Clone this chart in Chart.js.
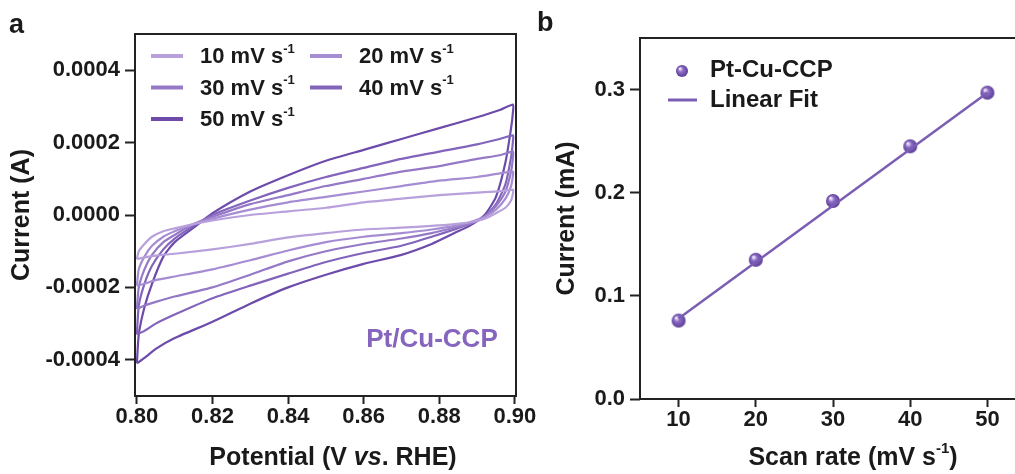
<!DOCTYPE html>
<html>
<head>
<meta charset="utf-8">
<script src="https://cdn.jsdelivr.net/npm/chart.js@4.4.1/dist/chart.umd.min.js"></script>
<style>
  html, body { margin: 0; padding: 0; background: #fff; overflow: hidden; }
  body { width: 1015px; height: 474px; position: relative; }
  canvas { position: absolute; top: 0; }
  #cvChart { left: 0; }
  #rateChart { left: 530px; }
</style>
</head>
<body>
<canvas id="cvChart" width="560" height="474"></canvas>
<canvas id="rateChart" width="510" height="474"></canvas>
<script>
// ---- panel a : CV loops (potential in V, current in A) ----
const scanRates = [10, 20, 30, 40, 50];
// forward sweep 0.80 -> 0.90 then reverse sweep back to 0.80
const cvPotential = [
  0.800, 0.8005, 0.802, 0.804, 0.807, 0.810, 0.815, 0.820, 0.830, 0.840, 0.850, 0.860, 0.870, 0.880, 0.890, 0.896, 0.8995,
  0.8995, 0.899, 0.8975, 0.895, 0.892, 0.888, 0.884, 0.878, 0.870, 0.860, 0.850, 0.840, 0.830, 0.820, 0.810, 0.805, 0.802, 0.800
];
const cv10 = [
  -1.22e-4, -1.0e-4, -0.8e-4, -0.6e-4, -0.45e-4, -0.37e-4, -0.25e-4, -0.15e-4, 0.0, 0.1e-4, 0.2e-4, 0.35e-4, 0.45e-4, 0.55e-4, 0.62e-4, 0.66e-4, 0.7e-4,
  0.6e-4, 0.4e-4, 0.2e-4, 0.05e-4, -0.1e-4, -0.2e-4, -0.25e-4, -0.3e-4, -0.35e-4, -0.4e-4, -0.5e-4, -0.62e-4, -0.8e-4, -0.95e-4, -1.07e-4, -1.12e-4, -1.17e-4, -1.22e-4
];
const cv20 = [
  -1.95e-4, -1.5e-4, -1.15e-4, -0.85e-4, -0.6e-4, -0.45e-4, -0.25e-4, -0.1e-4, 0.15e-4, 0.35e-4, 0.5e-4, 0.65e-4, 0.8e-4, 0.95e-4, 1.05e-4, 1.15e-4, 1.2e-4,
  1.1e-4, 0.8e-4, 0.45e-4, 0.15e-4, -0.05e-4, -0.2e-4, -0.3e-4, -0.4e-4, -0.5e-4, -0.6e-4, -0.75e-4, -0.98e-4, -1.25e-4, -1.5e-4, -1.7e-4, -1.8e-4, -1.9e-4, -1.95e-4
];
const cv30 = [
  -2.6e-4, -2.0e-4, -1.5e-4, -1.1e-4, -0.75e-4, -0.55e-4, -0.25e-4, -0.05e-4, 0.3e-4, 0.55e-4, 0.8e-4, 1.0e-4, 1.2e-4, 1.35e-4, 1.55e-4, 1.65e-4, 1.75e-4,
  1.6e-4, 1.2e-4, 0.65e-4, 0.25e-4, -0.05e-4, -0.25e-4, -0.35e-4, -0.5e-4, -0.65e-4, -0.8e-4, -1.0e-4, -1.28e-4, -1.65e-4, -2.0e-4, -2.25e-4, -2.4e-4, -2.5e-4, -2.6e-4
];
const cv40 = [
  -3.3e-4, -2.5e-4, -1.9e-4, -1.4e-4, -0.95e-4, -0.65e-4, -0.3e-4, 0.0, 0.4e-4, 0.75e-4, 1.05e-4, 1.3e-4, 1.55e-4, 1.75e-4, 1.95e-4, 2.1e-4, 2.2e-4,
  2.05e-4, 1.6e-4, 0.85e-4, 0.3e-4, -0.05e-4, -0.25e-4, -0.4e-4, -0.6e-4, -0.85e-4, -1.05e-4, -1.3e-4, -1.62e-4, -1.95e-4, -2.3e-4, -2.75e-4, -3.0e-4, -3.2e-4, -3.3e-4
];
const cv50 = [
  -4.1e-4, -3.3e-4, -2.55e-4, -1.9e-4, -1.15e-4, -0.75e-4, -0.35e-4, 0.05e-4, 0.65e-4, 1.1e-4, 1.5e-4, 1.8e-4, 2.1e-4, 2.4e-4, 2.7e-4, 2.9e-4, 3.05e-4,
  2.85e-4, 2.4e-4, 1.45e-4, 0.5e-4, 0.0, -0.3e-4, -0.5e-4, -0.8e-4, -1.1e-4, -1.35e-4, -1.65e-4, -2.0e-4, -2.45e-4, -2.95e-4, -3.4e-4, -3.7e-4, -3.95e-4, -4.1e-4
];
const cvXTicks = [0.80, 0.82, 0.84, 0.86, 0.88, 0.90];
const cvYTicks = [-0.0004, -0.0002, 0, 0.0002, 0.0004];

// ---- panel b : scan rate vs current ----
const rateValues = [10, 20, 30, 40, 50];
const rateCurrents = [0.076, 0.135, 0.192, 0.245, 0.297];
const fitRates = [10, 50];
const fitCurrents = [0.078, 0.297];
const rateXTicks = [10, 20, 30, 40, 50];
const rateYTicks = [0.0, 0.1, 0.2, 0.3];

const FONT = '"Liberation Sans", Arial, Helvetica, sans-serif';
const INK = '#1a1a1a';
const cvColors = ['#b8a0dc', '#a68cd2', '#9579c7', '#8264bb', '#6d4bab'];
const PURPLE = '#7b5db4';

Chart.defaults.font.family = FONT;
Chart.defaults.color = INK;

// text made of pieces, each with its own font and vertical shift
function drawRich(ctx, parts, x, y, align) {
  let w = 0;
  parts.forEach(p => { ctx.font = p.font; w += ctx.measureText(p.t).width; });
  let cx = align === 'center' ? x - w / 2 : x;
  ctx.textAlign = 'left';
  ctx.textBaseline = 'middle';
  parts.forEach(p => {
    ctx.font = p.font;
    ctx.fillText(p.t, cx, y + (p.dy || 0));
    cx += ctx.measureText(p.t).width;
  });
}
const bold = s => `bold ${s}px ${FONT}`;
const boldItalic = s => `italic bold ${s}px ${FONT}`;

function makeSphere(r) {
  const c = document.createElement('canvas');
  c.width = c.height = r * 2 + 2;
  const g = c.getContext('2d');
  const m = r + 1;
  const grad = g.createRadialGradient(m - r * 0.35, m - r * 0.4, r * 0.1, m, m, r);
  grad.addColorStop(0, '#efe6fa');
  grad.addColorStop(0.35, '#8e6ec6');
  grad.addColorStop(1, '#5c3d96');
  g.fillStyle = grad;
  g.beginPath();
  g.arc(m, m, r, 0, Math.PI * 2);
  g.fill();
  return c;
}
const sphere = makeSphere(7);
const sphereSmall = makeSphere(6);

const framePlugin = {
  id: 'frame',
  afterDraw(chart) {
    const { ctx, chartArea: a } = chart;
    ctx.save();
    ctx.strokeStyle = '#222';
    ctx.lineWidth = 2;
    ctx.strokeRect(a.left, a.top, a.right - a.left, a.bottom - a.top);
    ctx.restore();
  }
};

const cvTextPlugin = {
  id: 'cvText',
  afterDraw(chart) {
    const ctx = chart.ctx;
    ctx.save();
    ctx.fillStyle = INK;
    drawRich(ctx, [{ t: 'a', font: bold(27) }], 9, 26, 'left');
    // legend, two columns
    chart.data.datasets.forEach((ds, i) => {
      const col = i % 2, row = Math.floor(i / 2);
      const lx = col === 0 ? 151 : 310;
      const ly = 56 + row * 31.5;
      ctx.strokeStyle = ds.borderColor;
      ctx.lineWidth = 4;
      ctx.beginPath();
      ctx.moveTo(lx, ly);
      ctx.lineTo(lx + 32, ly);
      ctx.stroke();
      ctx.fillStyle = INK;
      drawRich(ctx, [
        { t: ds.label.replace(/-1$/, ''), font: bold(22) },
        { t: '-1', font: bold(13), dy: -8 }
      ], lx + 49, ly + 1, 'left');
    });
    ctx.fillStyle = '#8565bd';
    drawRich(ctx, [{ t: 'Pt/Cu-CCP', font: bold(26) }], 432, 340, 'center');
    ctx.fillStyle = INK;
    drawRich(ctx, [
      { t: 'Potential (V ', font: bold(25) },
      { t: 'vs', font: boldItalic(25) },
      { t: '. RHE)', font: bold(25) }
    ], 333, 458, 'center');
    ctx.restore();
  }
};

new Chart(document.getElementById('cvChart'), {
  type: 'scatter',
  data: {
    datasets: [cv10, cv20, cv30, cv40, cv50].map((cur, i) => ({
      label: scanRates[i] + ' mV s-1',
      data: cvPotential.map((v, k) => ({ x: v, y: cur[k] })),
      showLine: true,
      borderColor: cvColors[i],
      borderWidth: 2.2,
      pointRadius: 0,
      tension: 0.2
    }))
  },
  options: {
    responsive: false,
    animation: false,
    devicePixelRatio: 1,
    layout: { padding: { left: 0, top: 34, right: 44, bottom: 0 } },
    plugins: { legend: { display: false }, tooltip: { enabled: false } },
    scales: {
      x: {
        type: 'linear', min: 0.7995, max: 0.9003,
        afterBuildTicks: s => { s.ticks = cvXTicks.map(v => ({ value: v })); },
        afterFit: s => { s.height = 78; },
        grid: { drawOnChartArea: false, tickLength: 8, tickWidth: 2, tickColor: '#222' },
        border: { display: false },
        ticks: { font: { size: 22, weight: 'bold' }, color: INK, padding: 0, maxRotation: 0,
                 callback: v => v.toFixed(2) }
      },
      y: {
        type: 'linear', min: -0.0005, max: 0.0005,
        afterBuildTicks: s => { s.ticks = cvYTicks.map(v => ({ value: v })); },
        afterFit: s => { s.width = 135; },
        grid: { drawOnChartArea: false, tickLength: 10, tickWidth: 2, tickColor: '#222' },
        border: { display: false },
        ticks: { font: { size: 22, weight: 'bold' }, color: INK, padding: 5,
                 callback: v => v.toFixed(4) },
        title: { display: true, text: 'Current (A)', font: { size: 25, weight: 'bold' },
                 color: INK, padding: { top: 7, bottom: 0 } }
      }
    }
  },
  plugins: [framePlugin, cvTextPlugin]
});

const rateTextPlugin = {
  id: 'rateText',
  afterDraw(chart) {
    const ctx = chart.ctx;
    ctx.save();
    ctx.fillStyle = INK;
    drawRich(ctx, [{ t: 'b', font: bold(27) }], 7, 24, 'left');
    ctx.drawImage(sphereSmall, 152 - 7, 71 - 7);
    drawRich(ctx, [{ t: 'Pt-Cu-CCP', font: bold(24) }], 180, 70, 'left');
    ctx.strokeStyle = PURPLE;
    ctx.lineWidth = 3;
    ctx.beginPath();
    ctx.moveTo(138, 100);
    ctx.lineTo(167, 100);
    ctx.stroke();
    drawRich(ctx, [{ t: 'Linear Fit', font: bold(24) }], 180, 100, 'left');
    drawRich(ctx, [
      { t: 'Scan rate (mV s', font: bold(25) },
      { t: '-1', font: bold(15), dy: -9 },
      { t: ')', font: bold(25) }
    ], 323, 458, 'center');
    ctx.restore();
  }
};

new Chart(document.getElementById('rateChart'), {
  type: 'scatter',
  data: {
    datasets: [
      {
        label: 'Linear Fit',
        data: fitRates.map((v, k) => ({ x: v, y: fitCurrents[k] })),
        showLine: true,
        borderColor: PURPLE,
        borderWidth: 2.5,
        pointRadius: 0
      },
      {
        label: 'Pt-Cu-CCP',
        data: rateValues.map((v, k) => ({ x: v, y: rateCurrents[k] })),
        showLine: false,
        pointStyle: sphere,
        pointRadius: 7
      }
    ]
  },
  options: {
    responsive: false,
    animation: false,
    devicePixelRatio: 1,
    layout: { padding: { left: 0, top: 38, right: 14, bottom: 0 } },
    plugins: { legend: { display: false }, tooltip: { enabled: false } },
    scales: {
      x: {
        type: 'linear', min: 5, max: 55,
        afterBuildTicks: s => { s.ticks = rateXTicks.map(v => ({ value: v })); },
        afterFit: s => { s.height = 75; },
        grid: { drawOnChartArea: false, tickLength: 8, tickWidth: 2, tickColor: '#222' },
        border: { display: false },
        ticks: { font: { size: 22, weight: 'bold' }, color: INK, padding: 0, maxRotation: 0,
                 callback: v => String(v) }
      },
      y: {
        type: 'linear', min: 0, max: 0.35,
        afterBuildTicks: s => { s.ticks = rateYTicks.map(v => ({ value: v })); },
        afterFit: s => { s.width = 110; },
        grid: { drawOnChartArea: false, tickLength: 10, tickWidth: 2, tickColor: '#222' },
        border: { display: false },
        ticks: { font: { size: 22, weight: 'bold' }, color: INK, padding: 5,
                 callback: v => v.toFixed(1) },
        title: { display: true, text: 'Current (mA)', font: { size: 25, weight: 'bold' },
                 color: INK, padding: { top: 22, bottom: 0 } }
      }
    }
  },
  plugins: [framePlugin, rateTextPlugin]
});
</script>
</body>
</html>
